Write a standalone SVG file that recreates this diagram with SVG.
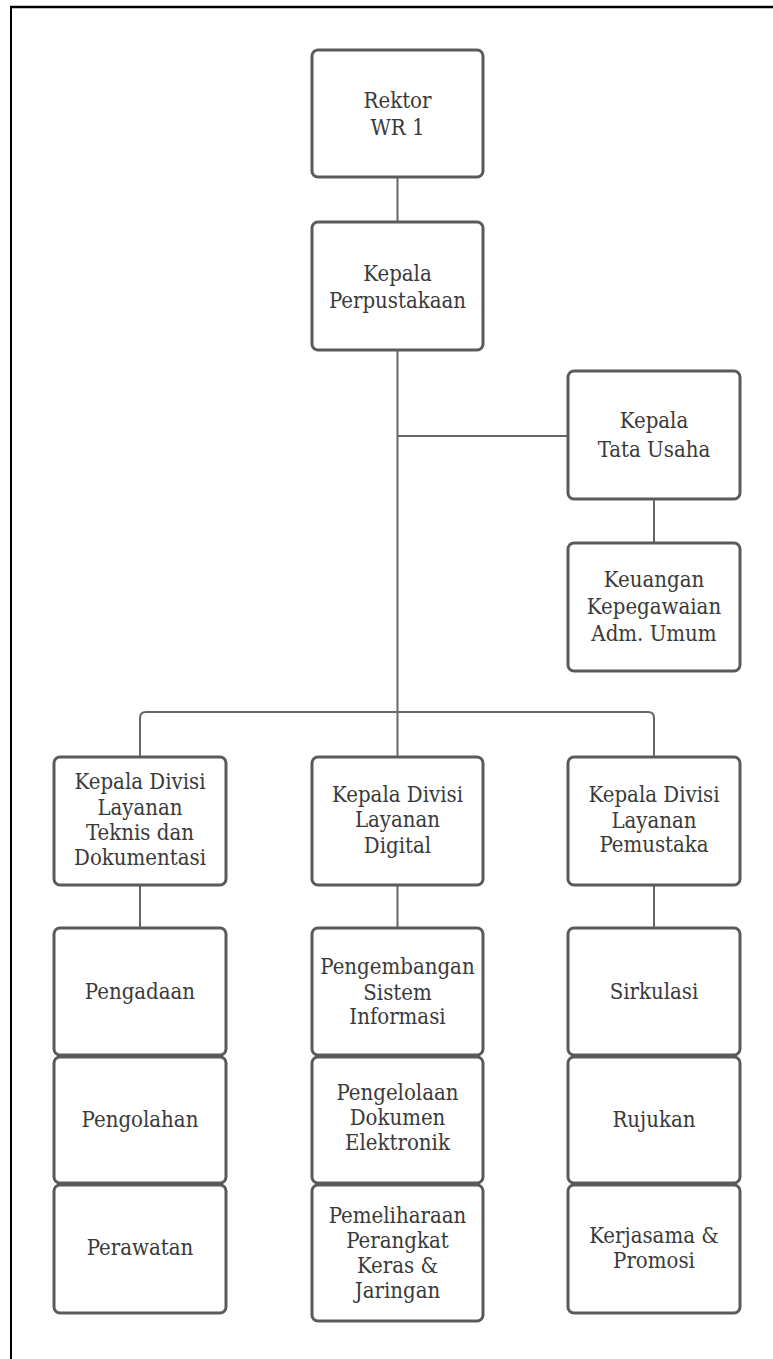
<svg xmlns="http://www.w3.org/2000/svg" width="773" height="1359" viewBox="0 0 773 1359">
<style>
.box{fill:#fff;stroke:#5a5a5a;stroke-width:3}
.lbl{font-family:"DejaVu Serif","Liberation Serif",serif;font-stretch:condensed;font-size:22px;fill:#3a3a3a;text-anchor:middle}
.con{fill:none;stroke:#666;stroke-width:2}
</style>
<rect width="773" height="1359" fill="#fff"/>
<g id="frame"><line x1="10" y1="7" x2="773" y2="7" stroke="#000" stroke-width="2.5"/><line x1="11" y1="6" x2="11" y2="1359" stroke="#000" stroke-width="2"/></g>
<g id="connectors">
<path class="con" d="M397.5 177V222"/>
<path class="con" d="M397.5 350V757"/>
<path class="con" d="M397.5 436H568"/>
<path class="con" d="M654 499V543"/>
<path class="con" d="M140 757V718Q140 712 146 712H648Q654 712 654 718V757"/>
<path class="con" d="M140 885V928"/>
<path class="con" d="M397.5 885V928"/>
<path class="con" d="M654 885V928"/>
</g>
<g id="rektor"><rect class="box" x="312" y="50" width="171" height="127" rx="6"/><text class="lbl" x="397.5" y="108.3">Rektor</text><text class="lbl" x="397.5" y="135">WR 1</text></g>
<g id="kepala-perpustakaan"><rect class="box" x="312" y="222" width="171" height="128" rx="6"/><text class="lbl" x="397.5" y="280.7">Kepala</text><text class="lbl" x="397.5" y="308.3">Perpustakaan</text></g>
<g id="tata-usaha"><rect class="box" x="568" y="371" width="172" height="128" rx="6"/><text class="lbl" x="654" y="428.3">Kepala</text><text class="lbl" x="654" y="456.7">Tata Usaha</text></g>
<g id="keuangan"><rect class="box" x="568" y="543" width="172" height="128" rx="6"/><text class="lbl" x="654" y="586.7">Keuangan</text><text class="lbl" x="654" y="614.3">Kepegawaian</text><text class="lbl" x="654" y="641">Adm. Umum</text></g>
<g id="div-teknis"><rect class="box" x="54" y="757" width="172" height="128" rx="6"/><text class="lbl" x="140" y="789">Kepala Divisi</text><text class="lbl" x="140" y="815">Layanan</text><text class="lbl" x="140" y="840">Teknis dan</text><text class="lbl" x="140" y="864.5">Dokumentasi</text></g>
<g id="div-digital"><rect class="box" x="312" y="757" width="171" height="128" rx="6"/><text class="lbl" x="397.5" y="801.7">Kepala Divisi</text><text class="lbl" x="397.5" y="827.3">Layanan</text><text class="lbl" x="397.5" y="852.7">Digital</text></g>
<g id="div-pemustaka"><rect class="box" x="568" y="757" width="172" height="128" rx="6"/><text class="lbl" x="654" y="802.3">Kepala Divisi</text><text class="lbl" x="654" y="827.7">Layanan</text><text class="lbl" x="654" y="852.3">Pemustaka</text></g>
<g id="pengadaan"><rect class="box" x="54" y="928" width="172" height="127" rx="6"/><text class="lbl" x="140" y="999">Pengadaan</text></g>
<g id="pengolahan"><rect class="box" x="54" y="1057" width="172" height="126" rx="6"/><text class="lbl" x="140" y="1127.3">Pengolahan</text></g>
<g id="perawatan"><rect class="box" x="54" y="1185" width="172" height="128" rx="6"/><text class="lbl" x="140" y="1255">Perawatan</text></g>
<g id="pengembangan"><rect class="box" x="312" y="928" width="171" height="127" rx="6"/><text class="lbl" x="397.5" y="974.3">Pengembangan</text><text class="lbl" x="397.5" y="1000">Sistem</text><text class="lbl" x="397.5" y="1024.3">Informasi</text></g>
<g id="pengelolaan"><rect class="box" x="312" y="1057" width="171" height="126" rx="6"/><text class="lbl" x="397.5" y="1100">Pengelolaan</text><text class="lbl" x="397.5" y="1125">Dokumen</text><text class="lbl" x="397.5" y="1150">Elektronik</text></g>
<g id="pemeliharaan"><rect class="box" x="312" y="1185" width="171" height="136" rx="6"/><text class="lbl" x="397.5" y="1223.3">Pemeliharaan</text><text class="lbl" x="397.5" y="1248.3">Perangkat</text><text class="lbl" x="397.5" y="1273.3">Keras &amp;</text><text class="lbl" x="397.5" y="1298.3">Jaringan</text></g>
<g id="sirkulasi"><rect class="box" x="568" y="928" width="172" height="127" rx="6"/><text class="lbl" x="654" y="999.3">Sirkulasi</text></g>
<g id="rujukan"><rect class="box" x="568" y="1057" width="172" height="126" rx="6"/><text class="lbl" x="654" y="1127.3">Rujukan</text></g>
<g id="kerjasama"><rect class="box" x="568" y="1185" width="172" height="128" rx="6"/><text class="lbl" x="654" y="1242.7">Kerjasama &amp;</text><text class="lbl" x="654" y="1267.7">Promosi</text></g>
</svg>
